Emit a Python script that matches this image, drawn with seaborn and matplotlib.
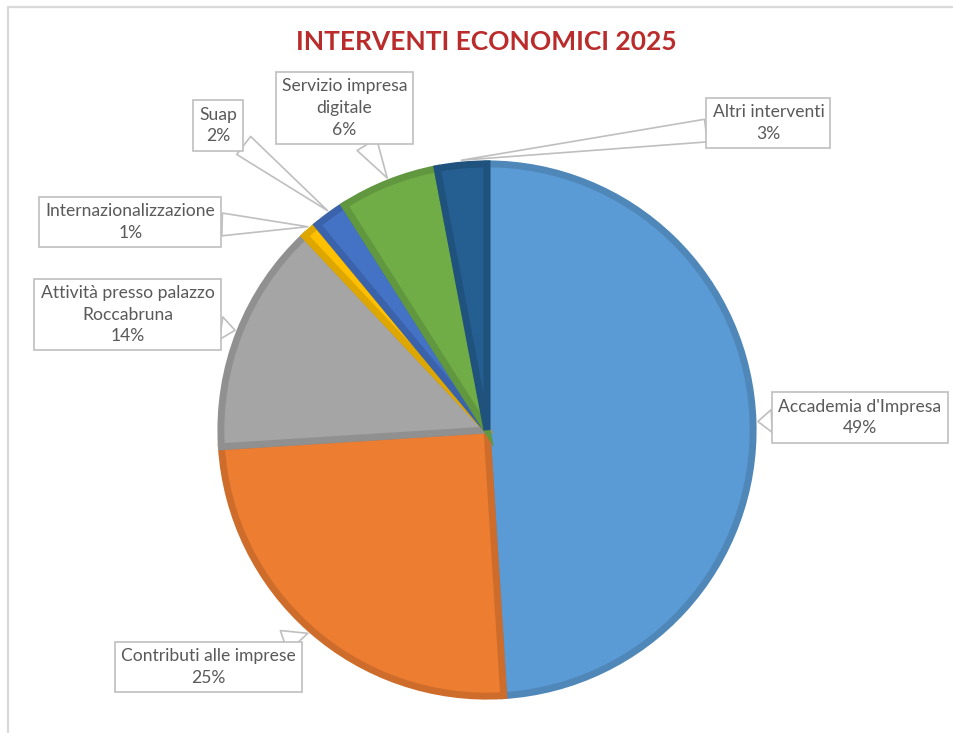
import matplotlib
matplotlib.use("Agg")
import matplotlib.pyplot as plt
import matplotlib.colors as mcolors
from matplotlib.lines import Line2D
import seaborn as sns
import numpy as np
import pandas as pd

# ---- data ----
categories = ["Accademia d'Impresa", "Contributi alle imprese",
              "Attività presso palazzo\nRoccabruna", "Internazionalizzazione",
              "Suap", "Servizio impresa\ndigitale", "Altri interventi"]
values = [49, 25, 14, 1, 2, 6, 3]
colors = ["#5B9BD5", "#ED7D31", "#A5A5A5", "#FFC000", "#4472C4", "#70AD47", "#255E91"]
title = "INTERVENTI ECONOMICI 2025"

# label box centres (pixels from top-left)
label_pos_px = [(860, 417.5), (208.5, 667), (127.5, 314.5), (130.5, 222),
                (218, 125.5), (344.5, 108), (768.5, 123)]

sns.set_theme(style="white")
plt.rcParams['font.family'] = ['Lato', 'DejaVu Sans']

W, H = 954, 733
fig = plt.figure(figsize=(W / 100, H / 100), dpi=100)
fig.patch.set_facecolor("white")

# outer chart border (top + left visible)
fig.add_artist(Line2D([8 / W, 1], [1 - 7 / H, 1 - 7 / H], color="#D9D9D9", lw=1.6))
fig.add_artist(Line2D([8.5 / W, 8.5 / W], [0, 1 - 7 / H], color="#D9D9D9", lw=1.6))

fig.text(486.5 / W, 1 - 42 / H, title, ha="center", va="center",
         fontsize=19, fontweight="bold", color="#BA2C2C")

cx, cy, R = 487, 430, 271
ax = fig.add_axes([(cx - R) / W, (H - cy - R) / H, 2 * R / W, 2 * R / H])

df = pd.DataFrame({"cat": categories, "val": values, "col": colors})


def darken(c, f=0.87):
    r, g, b = mcolors.to_rgb(c)
    return (r * f, g * f, b * f)


wedges, _ = ax.pie(df["val"], colors=df["col"], startangle=90, counterclock=False,
                   radius=0.982, wedgeprops=dict(linewidth=5))
for w, c in zip(wedges, df["col"]):
    w.set_edgecolor(darken(c))
    w.set_joinstyle("miter")

ax.set_xlim(-1, 1)
ax.set_ylim(-1, 1)
ax.set_aspect("equal")
ax.axis("off")

for w, cat, v, (px, py) in zip(wedges, df["cat"], df["val"], label_pos_px):
    mid = np.deg2rad((w.theta1 + w.theta2) / 2)
    tip = (np.cos(mid) * 1.0, np.sin(mid) * 1.0)
    ax.annotate(f"{cat}\n{v}%", xy=tip, xycoords="data",
                xytext=(px / W, 1 - py / H), textcoords="figure fraction",
                ha="center", va="center", multialignment="center",
                fontsize=12.6, color="#595959", linespacing=1.45,
                bbox=dict(boxstyle="square,pad=0.35", fc="white", ec="#BFBFBF", lw=1.2),
                arrowprops=dict(arrowstyle="wedge,tail_width=1.3,shrink_factor=0.5",
                                fc="white", ec="#BFBFBF", lw=1.2,
                                shrinkA=0, shrinkB=0),
                annotation_clip=False, zorder=5)

fig.savefig("out.png", dpi=100, facecolor="white")
